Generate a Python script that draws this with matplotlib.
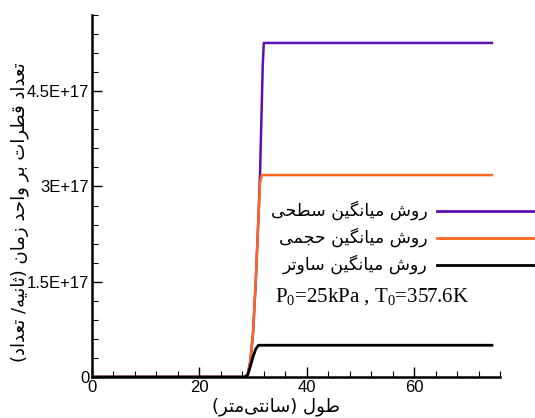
import matplotlib
matplotlib.use("Agg")
import matplotlib.pyplot as plt
from matplotlib.lines import Line2D
from matplotlib.ticker import MultipleLocator, FixedLocator

plt.rcParams["mathtext.fontset"] = "custom"
plt.rcParams["mathtext.rm"] = "Liberation Serif"
plt.rcParams["mathtext.it"] = "Liberation Serif:italic"
plt.rcParams["mathtext.bf"] = "Liberation Serif:bold"

# ---------------- data ----------------
x_cm = [0, 28.5, 29.0, 29.5, 30.0, 30.5, 31.0, 31.3, 31.6, 31.8, 32.0, 74.5]
surface_mean = [0, 0, 0.04e17, 0.25e17, 0.7e17, 1.5e17, 2.5e17, 3.2e17, 4.2e17, 4.9e17, 5.26e17, 5.26e17]
volume_mean = [0, 0, 0.04e17, 0.25e17, 0.7e17, 1.5e17, 2.5e17, 3.05e17, 3.18e17, 3.18e17, 3.18e17, 3.18e17]
sauter_mean = [0, 0, 0.03e17, 0.17e17, 0.32e17, 0.44e17, 0.5e17, 0.5e17, 0.5e17, 0.5e17, 0.5e17, 0.5e17]

y_ticks = [0, 1.5e17, 3e17, 4.5e17]
y_tick_labels = ["0", "1.5E+17", "3E+17", "4.5E+17"]
x_ticks = [0, 20, 40, 60]

label_surface = "روش میانگین سطحی"
label_volume = "روش میانگین حجمی"
label_sauter = "روش میانگین ساوتر"
xlabel_text = "طول (سانتی\u200cمتر)"
ylabel_text = "تعداد قطرات بر واحد زمان (ثانیه/ تعداد)"

# ---------------- minimal Persian shaping ----------------
FORMS = {
    '\u0627': ('\uFE8D', '\uFE8E', None, None),
    '\u0628': ('\uFE8F', '\uFE90', '\uFE91', '\uFE92'),
    '\u062A': ('\uFE95', '\uFE96', '\uFE97', '\uFE98'),
    '\u062B': ('\uFE99', '\uFE9A', '\uFE9B', '\uFE9C'),
    '\u062C': ('\uFE9D', '\uFE9E', '\uFE9F', '\uFEA0'),
    '\u062D': ('\uFEA1', '\uFEA2', '\uFEA3', '\uFEA4'),
    '\u062E': ('\uFEA5', '\uFEA6', '\uFEA7', '\uFEA8'),
    '\u062F': ('\uFEA9', '\uFEAA', None, None),
    '\u0630': ('\uFEAB', '\uFEAC', None, None),
    '\u0631': ('\uFEAD', '\uFEAE', None, None),
    '\u0632': ('\uFEAF', '\uFEB0', None, None),
    '\u0633': ('\uFEB1', '\uFEB2', '\uFEB3', '\uFEB4'),
    '\u0634': ('\uFEB5', '\uFEB6', '\uFEB7', '\uFEB8'),
    '\u0637': ('\uFEC1', '\uFEC2', '\uFEC3', '\uFEC4'),
    '\u0639': ('\uFEC9', '\uFECA', '\uFECB', '\uFECC'),
    '\u0642': ('\uFED5', '\uFED6', '\uFED7', '\uFED8'),
    '\u0644': ('\uFEDD', '\uFEDE', '\uFEDF', '\uFEE0'),
    '\u0645': ('\uFEE1', '\uFEE2', '\uFEE3', '\uFEE4'),
    '\u0646': ('\uFEE5', '\uFEE6', '\uFEE7', '\uFEE8'),
    '\u0647': ('\uFEE9', '\uFEEA', '\uFEEB', '\uFEEC'),
    '\u0648': ('\uFEED', '\uFEEE', None, None),
    '\u06CC': ('\uFBFC', '\uFBFD', '\uFBFE', '\uFBFF'),
    '\u06AF': ('\uFB92', '\uFB93', '\uFB94', '\uFB95'),
}


def dual(c):
    return c in FORMS and FORMS[c][2] is not None


def shape(s):
    out = []
    n = len(s)
    for i, c in enumerate(s):
        if c not in FORMS:
            out.append(c)
            continue
        prev = s[i - 1] if i > 0 else ''
        nxt = s[i + 1] if i + 1 < n else ''
        jp = dual(prev)
        jn = dual(c) and nxt in FORMS
        iso, fin, ini, med = FORMS[c]
        if jp and jn:
            out.append(med)
        elif jp:
            out.append(fin)
        elif jn:
            out.append(ini)
        else:
            out.append(iso)
    out = [c for c in out if c != '\u200c']
    mirror = {'(': ')', ')': '('}
    return ''.join(mirror.get(c, c) for c in reversed(out))


# ---------------- figure ----------------
W, H = 535, 418
fig = plt.figure(figsize=(W / 100, H / 100), dpi=100)
ax = fig.add_axes([92 / W, 1 - 377 / H, 408 / W, 362 / H])

purple = "#5a10b2"
orange = "#ff6620"

ax.plot(x_cm, surface_mean, color=purple, lw=1.8, zorder=3)
ax.plot(x_cm, volume_mean, color=orange, lw=1.8, zorder=4)
ax.plot(x_cm, sauter_mean, color="black", lw=2.0, zorder=5)

ax.set_xlim(0, 76)
ax.set_ylim(0, 5.7e17)
for s in ["top", "right"]:
    ax.spines[s].set_visible(False)
for s in ["left", "bottom"]:
    ax.spines[s].set_linewidth(1.8)

ax.xaxis.set_major_locator(FixedLocator(x_ticks))
ax.xaxis.set_minor_locator(MultipleLocator(4))
ax.yaxis.set_major_locator(FixedLocator(y_ticks))
ax.yaxis.set_minor_locator(MultipleLocator(0.3e17))
ax.set_yticklabels(y_tick_labels)
ax.tick_params(which="major", direction="in", length=7, width=1.0,
               labelsize=12, pad=2)
ax.tick_params(which="minor", direction="in", length=4, width=0.8)
for lab in ax.get_xticklabels() + ax.get_yticklabels():
    lab.set_fontfamily("Liberation Sans")
    lab.set_fontsize(12)

fig.text(276 / W, 1 - 407 / H, shape(xlabel_text), ha="center", va="center",
         fontsize=13, family="DejaVu Sans")
fig.text(20 / W, 1 - 212 / H, shape(ylabel_text), ha="center", va="center",
         rotation=90, fontsize=13, family="DejaVu Sans")

# legend
rows = [(211, purple, label_surface), (238, orange, label_volume), (265, "black", label_sauter)]
for yy, col, lab in rows:
    fig.add_artist(Line2D([437 / W, 1.0], [1 - yy / H, 1 - yy / H], color=col, lw=2.0,
                          transform=fig.transFigure))
    fig.text(428 / W, 1 - (yy - 1) / H, shape(lab), ha="right", va="center",
             fontsize=12.5, family="DejaVu Sans")

fig.text(275 / W, 1 - 297 / H, r"P$_0$=25kPa , T$_0$=357.6K", ha="left", va="center",
         fontsize=15, family="Liberation Serif")

fig.savefig("out.png", dpi=100)
